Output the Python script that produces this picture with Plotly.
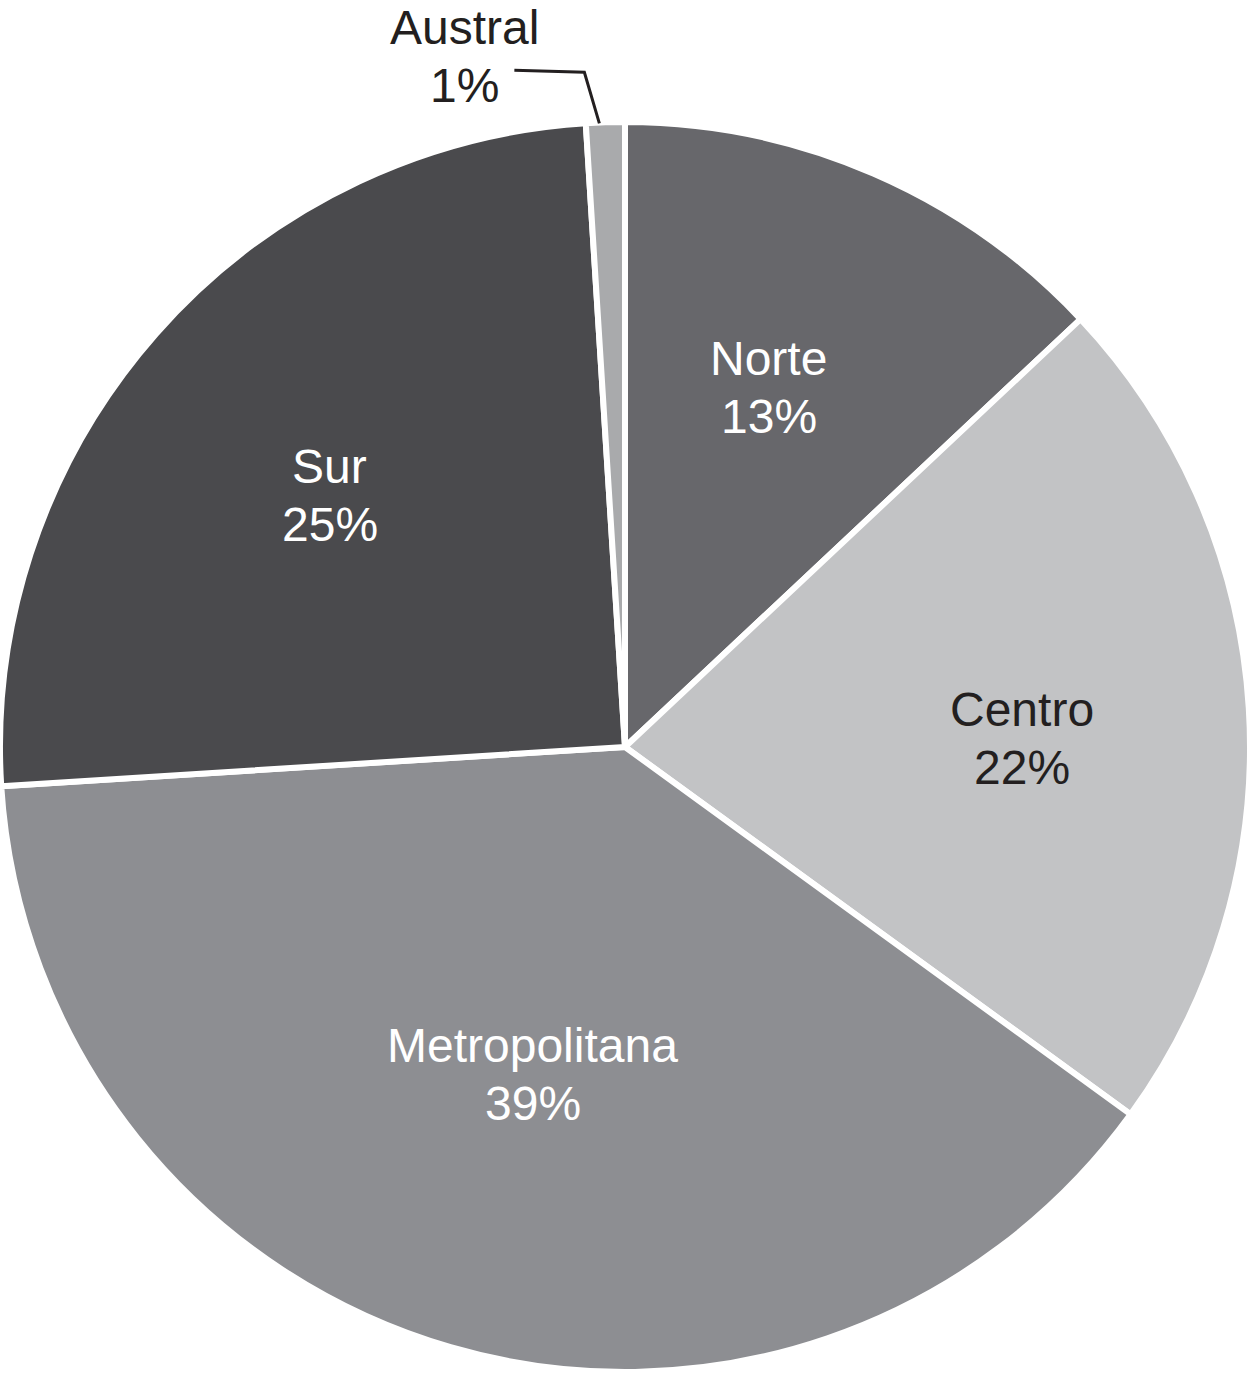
import math
import plotly.graph_objects as go

# Data
regions = ["Norte", "Centro", "Metropolitana", "Sur", "Austral"]
shares = [13, 22, 39, 25, 1]

# Styles
colors = ["#67676b", "#c2c3c5", "#8d8e92", "#4a4a4d", "#a9aaac"]
text_colors = ["white", "#231f20", "white", "white", "#231f20"]
label_r = [0.62, 0.635, 0.545, 0.62, None]  # None -> outside label with leader
label_dtheta = [-1.6, 2.4, -0.5, -1.0, 0]  # degrees nudge

W, H = 1250, 1373
FONT = "Liberation Sans, Arial, Helvetica, sans-serif"
FS = 48
LINE_GAP = 58
dom_top = 1252 / H
fig = go.Figure(go.Pie(
    labels=regions, values=shares, sort=False, direction="clockwise", rotation=0,
    marker=dict(colors=colors, line=dict(color="white", width=6)),
    textinfo="none", hoverinfo="label+percent", showlegend=False,
    domain=dict(x=[0, 1], y=[0, dom_top]),
))

# pixel geometry of the pie (derived from domain)
R = min(W, dom_top * H) / 2
cx, cy = W / 2, H - dom_top * H / 2  # cy in pixels from top


def to_paper(px, py):
    return px / W, 1 - py / H


def add_label(annotations, px, py, name, pct, color):
    for line, off in ((name, -LINE_GAP / 2), (f"{pct}%", LINE_GAP / 2)):
        x, y = to_paper(px, py + off)
        annotations.append(dict(x=x, y=y, xref="paper", yref="paper", text=line,
                                showarrow=False, font=dict(size=FS, color=color, family=FONT),
                                xanchor="center", yanchor="middle"))


total = sum(shares)
cum = 0
annotations = []
shapes = []
for name, v, tc, lr, dt in zip(regions, shares, text_colors, label_r, label_dtheta):
    mid = (cum + v / 2) / total * 2 * math.pi + math.radians(dt)
    cum += v
    pct = round(v / total * 100)
    if lr is not None:
        px = cx + lr * R * math.sin(mid)
        py = cy - lr * R * math.cos(mid)
        add_label(annotations, px, py, name, pct, tc)
    else:
        ex = cx + R * math.sin(mid) - 6
        ey = cy - R * math.cos(mid) + 1
        kx, ky = ex - 15, ey - 51
        lx, ly = kx - 70, ky - 2
        p = [to_paper(ex, ey), to_paper(kx, ky), to_paper(lx, ly)]
        shapes.append(dict(type="path", xref="paper", yref="paper",
                           path=f"M {p[0][0]},{p[0][1]} L {p[1][0]},{p[1][1]} L {p[2][0]},{p[2][1]}",
                           line=dict(color="#231f20", width=3)))
        add_label(annotations, lx - 50, ly - 14, name, pct, tc)

fig.update_layout(
    width=W, height=H, margin=dict(l=0, r=0, t=0, b=0),
    paper_bgcolor="white", plot_bgcolor="white",
    annotations=annotations, shapes=shapes,
)
fig.write_html("out.html", config={"displayModeBar": False},
               post_script="document.body.style.margin='0';document.body.style.overflow='hidden';")
